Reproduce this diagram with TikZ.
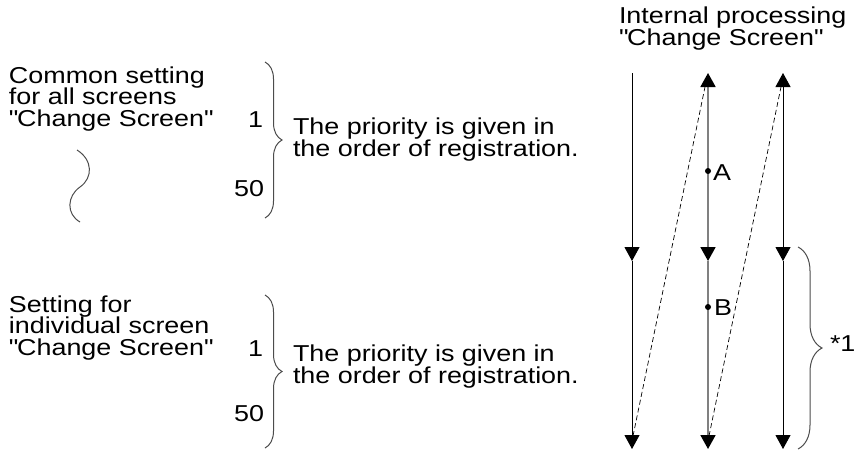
\documentclass[tikz,border=0pt]{standalone}
\usepackage{fontspec}
\setmainfont{Liberation Sans}[FakeStretch=1.17]
\usetikzlibrary{arrows.meta,decorations.pathreplacing}
\newcommand{\dq}{\textquotedbl}
\tikzset{
  txt/.style={inner sep=0pt, outer sep=0pt, align=left, font=\fontsize{23}{21.5}\selectfont},
  blk/.style={line width=1pt, black},
  gry/.style={line width=1.8pt, black!50},
  dsh/.style={line width=0.7pt, black, dash pattern=on 5pt off 3pt},
  brc/.style={line width=1pt, black!70, decorate},
  dotmark/.style={circle, fill=black, inner sep=0pt, minimum size=6pt},
  >={Triangle[width=15pt,length=14pt,color=black]}
}
\begin{document}
\begin{tikzpicture}[x=1pt,y=-1pt]
\useasboundingbox (0,0) rectangle (856,450);
% left texts, upper block (anchor = baseline of last line)
\node[txt, anchor=base west] (c1) at (9,126) {Common setting\\for all screens\\\dq Change Screen\dq};
\node[txt, anchor=base east] (n1a) at (263,127) {1};
\node[txt, anchor=base east] (n50a) at (264,196) {50};
\coordinate (ba0) at (265,62);
\coordinate (ba1) at (265,218);
\draw[brc, decoration={brace, amplitude=17pt}] (ba0) -- (ba1);
\node[txt, anchor=base west] (pa) at (293,156) {The priority is given in\\the order of registration.};
% wave mark
\coordinate (w0) at (77,150);
\coordinate (w1) at (80,187);
\coordinate (w2) at (80,222);
\draw[line width=1pt, black!70] (w0) .. controls (93,160) and (93,178) .. (w1) .. controls (67,196) and (66,214) .. (w2);
% lower block
\node[txt, anchor=base west] (c2) at (9,355) {Setting for\\individual screen\\\dq Change Screen\dq};
\node[txt, anchor=base east] (n1b) at (263,356) {1};
\node[txt, anchor=base east] (n50b) at (264,421) {50};
\coordinate (bb0) at (265,295);
\coordinate (bb1) at (265,448);
\draw[brc, decoration={brace, amplitude=17pt}] (bb0) -- (bb1);
\node[txt, anchor=base west] (pb) at (293,383) {The priority is given in\\the order of registration.};
% right: internal processing
\node[txt, anchor=base west] (ip) at (619,45) {Internal processing\\\dq Change Screen\dq};
\coordinate (L0) at (632,73);
\coordinate (L1) at (632,261);
\coordinate (L2) at (632,449);
\coordinate (M0) at (708,73);
\coordinate (M1) at (708,261);
\coordinate (M2) at (708,449);
\coordinate (R0) at (783,73);
\coordinate (R1) at (783,261);
\coordinate (R2) at (783,449);
\draw[blk,->] (L0) -- (L1);
\draw[blk,->] (L1) -- (L2);
\draw[gry,<->] (M0) -- (M1);
\draw[gry,->] (M1) -- (M2);
\draw[blk,<->] (R0) -- (R1);
\draw[blk,->] (R1) -- (R2);
\coordinate (d1a) at (633,436);
\coordinate (d1b) at (706,82);
\coordinate (d2a) at (709,436);
\coordinate (d2b) at (782,82);
\draw[dsh] (d1a) -- (d1b);
\draw[dsh] (d2a) -- (d2b);
\node[dotmark] (A) at (708,171) {};
\node[txt, anchor=base west] (la) at (713,180) {A};
\node[dotmark] (B) at (708,307) {};
\node[txt, anchor=base west] (lb) at (714,315) {B};
\coordinate (bc0) at (798,247);
\coordinate (bc1) at (798,449);
\draw[brc, decoration={brace, amplitude=24pt}] (bc0) -- (bc1);
\node[txt, anchor=base west] (s1) at (830,351) {*1};
\end{tikzpicture}
\end{document}
